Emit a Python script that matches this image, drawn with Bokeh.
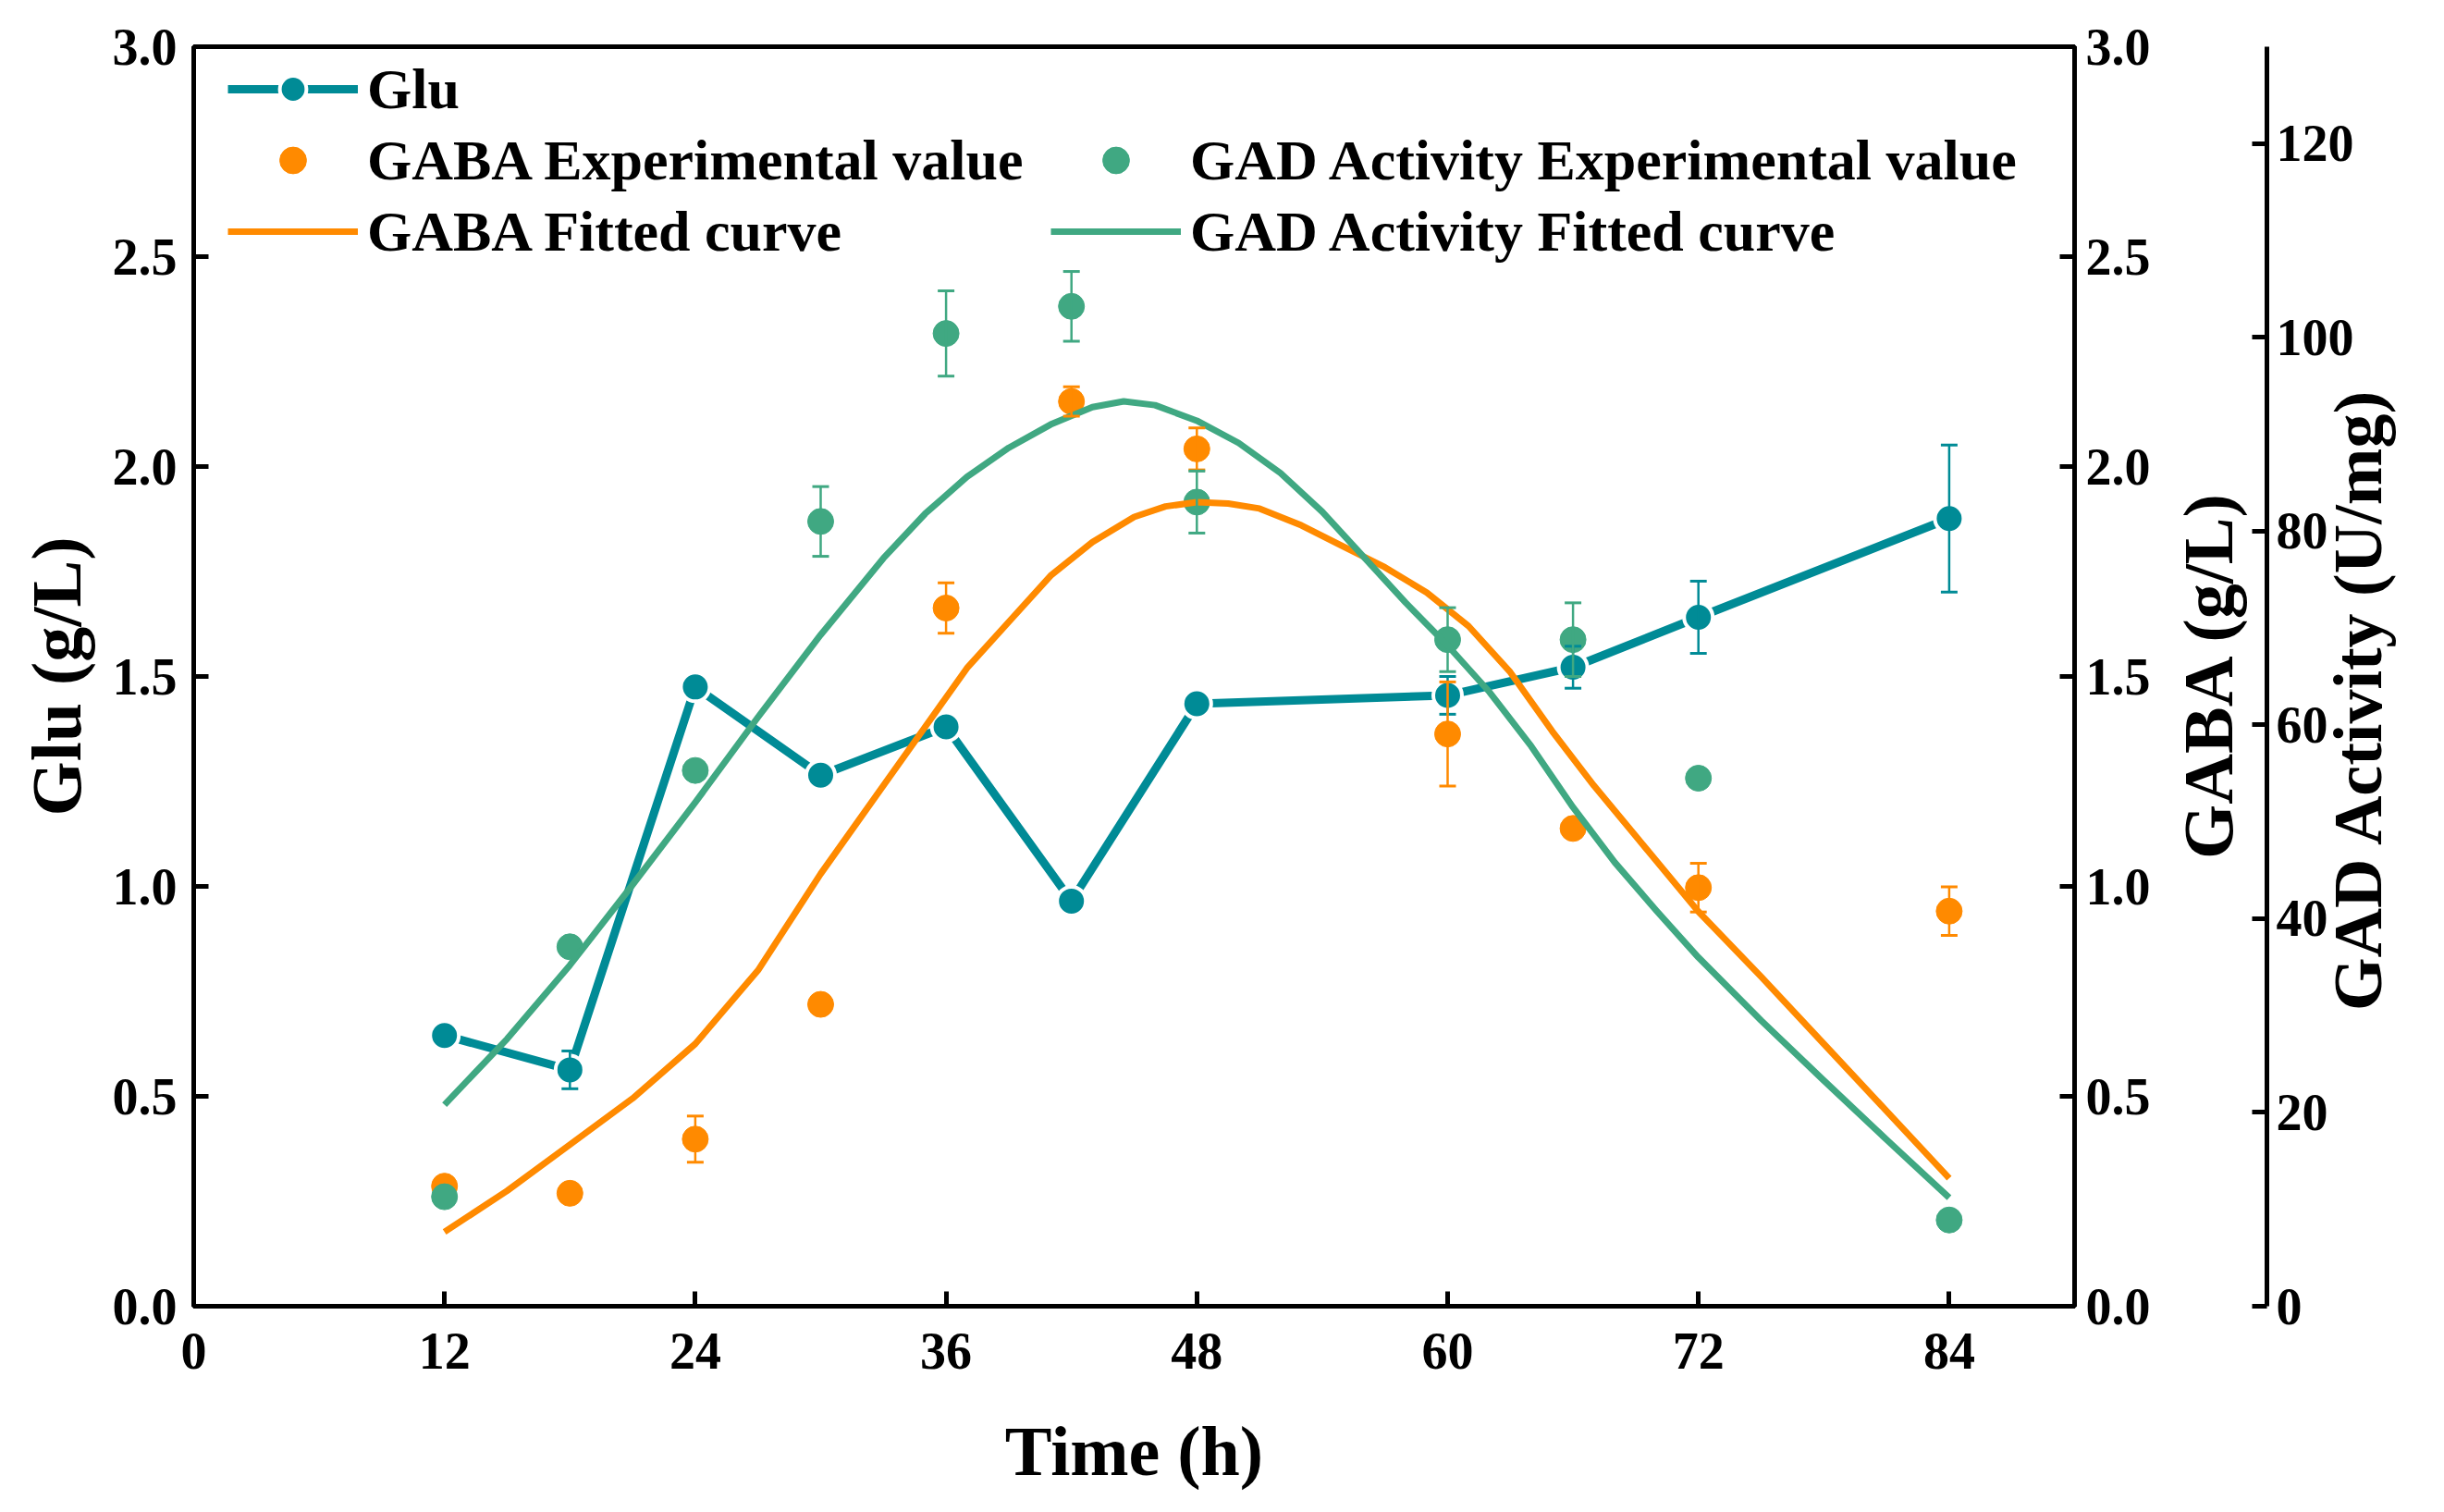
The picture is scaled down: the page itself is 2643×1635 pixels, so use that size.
import numpy as np
from bokeh.plotting import figure
from bokeh.models import (LinearAxis, Range1d, FixedTicker, NumeralTickFormatter, Whisker,
                          ColumnDataSource, Legend, LegendItem, TeeHead, CustomJSTickFormatter)
from bokeh.embed import file_html
from bokeh.resources import INLINE

# ---------------- data ----------------
time_h = [12, 18, 24, 30, 36, 42, 48, 60, 66, 72, 84]
glu = [0.645, 0.563, 1.475, 1.265, 1.38, 0.965, 1.435, 1.455, 1.522, 1.641, 1.876]
glu_err = [0.0, 0.045, 0.0, 0.0, 0.0, 0.0, 0.0, 0.045, 0.05, 0.086, 0.175]
gaba = [0.286, 0.269, 0.398, 0.719, 1.663, 2.155, 2.042, 1.363, 1.138, 0.997, 0.941]
gaba_err = [0.0, 0.0, 0.055, 0.0, 0.06, 0.035, 0.05, 0.124, 0.0, 0.058, 0.058]
gad = [11.3, 37.1, 55.3, 81.0, 100.4, 103.2, 83.0, 68.8, 68.8, 54.5, 8.9]
gad_err = [0.0, 0.0, 0.0, 3.6, 4.4, 3.6, 3.2, 3.3, 3.8, 0.0, 0.0]

gaba_fit_time = [12, 15, 18, 21, 24, 27, 30, 33, 35, 37, 39, 41, 43, 45, 46.5, 48, 49.5, 51, 53, 55,
                 57, 59, 61, 63, 65, 67, 69, 72, 75, 78, 81, 84]
gaba_fit = [0.177, 0.275, 0.385, 0.495, 0.625, 0.80, 1.03, 1.24, 1.38, 1.52, 1.63, 1.74, 1.82, 1.88,
            1.905, 1.915, 1.912, 1.90, 1.86, 1.81, 1.76, 1.70, 1.62, 1.51, 1.37, 1.24, 1.12, 0.94,
            0.785, 0.625, 0.465, 0.305]
gad_fit_time = [12, 15, 18, 21, 24, 27, 30, 33, 35, 37, 39, 41, 43, 44.5, 46, 48, 50, 52, 54, 56, 58,
                60, 62, 64, 66, 68, 70, 72, 75, 78, 81, 84]
gad_fit = [20.8, 27.6, 35.2, 43.5, 52.0, 60.8, 69.3, 77.2, 81.8, 85.6, 88.6, 91.0, 92.8, 93.4, 93.0,
           91.4, 89.1, 86.0, 82.0, 77.3, 72.6, 68.2, 63.4, 57.8, 51.5, 45.8, 40.8, 36.0, 29.5, 23.3,
           17.2, 11.2]

x_ticks = [0, 12, 24, 36, 48, 60, 72, 84]
g_ticks = [0, 0.5, 1.0, 1.5, 2.0, 2.5, 3.0]
gad_ticks = [0, 20, 40, 60, 80, 100, 120]

# titles of the two right axes (drawn bottom-to-top)
GABA_TITLE = "GABA (g/L)"
GAD_TITLE = "GAD Activity (U/mg)"
GABA_TITLE_START = 1.065   # where the rotated title text starts (axis units)
GAD_TITLE_START = 30.5

C_GLU = "#008B96"
C_GABA = "#FF8A00"
C_GAD = "#40A882"
FONT = "Liberation Serif"

# ---------------- figure ----------------
p = figure(width=2635, height=1627, x_range=Range1d(0, 90), y_range=Range1d(0, 3),
           output_backend="svg", toolbar_location=None,
           min_border_left=209, min_border_right=391, min_border_top=50, min_border_bottom=215)
p.extra_y_ranges = {"gad": Range1d(0, 130)}
p.xgrid.visible = False
p.ygrid.visible = False
p.outline_line_color = "black"
p.outline_line_width = 5
p.background_fill_color = "white"
p.border_fill_color = "white"


def style_axis(ax, tick_size="56px", title_size="76px"):
    ax.axis_line_width = 5
    ax.axis_line_color = "black"
    ax.major_tick_line_width = 5
    ax.major_tick_in = 16
    ax.major_tick_out = 0
    ax.minor_tick_line_color = None
    ax.major_label_text_font = FONT
    ax.major_label_text_font_style = "bold"
    ax.major_label_text_font_size = tick_size
    ax.major_label_text_color = "black"
    ax.axis_label_text_font = FONT
    ax.axis_label_text_font_style = "bold"
    ax.axis_label_text_font_size = title_size
    ax.axis_label_text_color = "black"


def title_axis(text, start, standoff, range_name="default", size="76px"):
    ax = LinearAxis(y_range_name=range_name, ticker=FixedTicker(ticks=[start]),
                    formatter=CustomJSTickFormatter(code="return %r;" % text))
    ax.axis_line_color = None
    ax.major_tick_line_color = None
    ax.minor_tick_line_color = None
    ax.major_tick_in = 0
    ax.major_tick_out = 0
    ax.major_label_orientation = float(np.pi / 2)
    ax.major_label_text_font = FONT
    ax.major_label_text_font_style = "bold"
    ax.major_label_text_font_size = size
    ax.major_label_text_color = "black"
    ax.major_label_standoff = standoff
    return ax


xa = p.xaxis[0]
style_axis(xa)
xa.ticker = FixedTicker(ticks=x_ticks)
xa.axis_label = "Time (h)"
xa.major_label_standoff = 29
xa.axis_label_standoff = 44

ya = p.yaxis[0]
style_axis(ya)
ya.ticker = FixedTicker(ticks=g_ticks)
ya.formatter = NumeralTickFormatter(format="0.0")
ya.axis_label = "Glu (g/L)"
ya.major_label_standoff = 18
ya.axis_label_standoff = 16

# GABA numbers; a blank axis label reserves the room where the GABA title is drawn
ax_gaba = LinearAxis(ticker=FixedTicker(ticks=g_ticks), formatter=NumeralTickFormatter(format="0.0"))
style_axis(ax_gaba, title_size="10px")
ax_gaba.major_label_standoff = 12
ax_gaba.axis_label = " "
ax_gaba.axis_label_standoff = 109
p.add_layout(ax_gaba, "right")

ax_gad = LinearAxis(y_range_name="gad", ticker=FixedTicker(ticks=gad_ticks))
style_axis(ax_gad)
ax_gad.major_label_standoff = 10
p.add_layout(ax_gad, "right")

p.add_layout(title_axis(GAD_TITLE, GAD_TITLE_START, 2, "gad", "74px"), "right")
# GABA title: drawn back to the left of the GAD axis (negative standoff)
p.add_layout(title_axis(GABA_TITLE, GABA_TITLE_START, -247), "right")

# ---------------- glyphs ----------------
glu_line = p.line(time_h, glu, line_color=C_GLU, line_width=9)


def add_err(xs, ys, es, color, range_name="default"):
    bx = [x for x, e in zip(xs, es) if e > 0]
    up = [y + e for y, e in zip(ys, es) if e > 0]
    lo = [y - e for y, e in zip(ys, es) if e > 0]
    src = ColumnDataSource(dict(base=bx, upper=up, lower=lo))
    w = Whisker(source=src, base="base", upper="upper", lower="lower", y_range_name=range_name,
                line_color=color, line_width=2.5, level="glyph",
                upper_head=TeeHead(size=18, line_color=color, line_width=3),
                lower_head=TeeHead(size=18, line_color=color, line_width=3))
    p.add_layout(w)


glu_pts = p.scatter(time_h, glu, size=31, fill_color=C_GLU, line_color="white", line_width=4)
add_err(time_h, glu, glu_err, C_GLU)

gaba_pts = p.scatter(time_h, gaba, size=28, fill_color=C_GABA, line_color=C_GABA, line_width=1)
add_err(time_h, gaba, gaba_err, C_GABA)

gad_pts = p.scatter(time_h, gad, size=28, fill_color=C_GAD, line_color=C_GAD, line_width=1,
                    y_range_name="gad")
add_err(time_h, gad, gad_err, C_GAD, "gad")

gaba_fit_line = p.line(gaba_fit_time, gaba_fit, line_color=C_GABA, line_width=7, line_join="round")
gad_fit_line = p.line(gad_fit_time, gad_fit, line_color=C_GAD, line_width=7, line_join="round",
                      y_range_name="gad")


# ---------------- legends ----------------
def style_legend(lg):
    lg.border_line_color = None
    lg.background_fill_alpha = 0
    lg.label_text_font = FONT
    lg.label_text_font_style = "bold"
    lg.label_text_font_size = "62px"
    lg.label_text_color = "black"
    lg.glyph_width = 141
    lg.glyph_height = 72
    lg.label_height = 72
    lg.spacing = 5
    lg.padding = 0
    lg.margin = 0
    lg.label_standoff = 10


leg1 = Legend(items=[LegendItem(label="Glu", renderers=[glu_line, glu_pts]),
                     LegendItem(label="GABA Experimental value", renderers=[gaba_pts]),
                     LegendItem(label="GABA Fitted curve", renderers=[gaba_fit_line])],
              location=(37, 1126))
style_legend(leg1)
leg2 = Legend(items=[LegendItem(label="GAD Activity Experimental value", renderers=[gad_pts]),
                     LegendItem(label="GAD Activity Fitted curve", renderers=[gad_fit_line])],
              location=(927, 1126))
style_legend(leg2)
p.add_layout(leg1)
p.add_layout(leg2)

open("out.html", "w").write(file_html(p, INLINE))
